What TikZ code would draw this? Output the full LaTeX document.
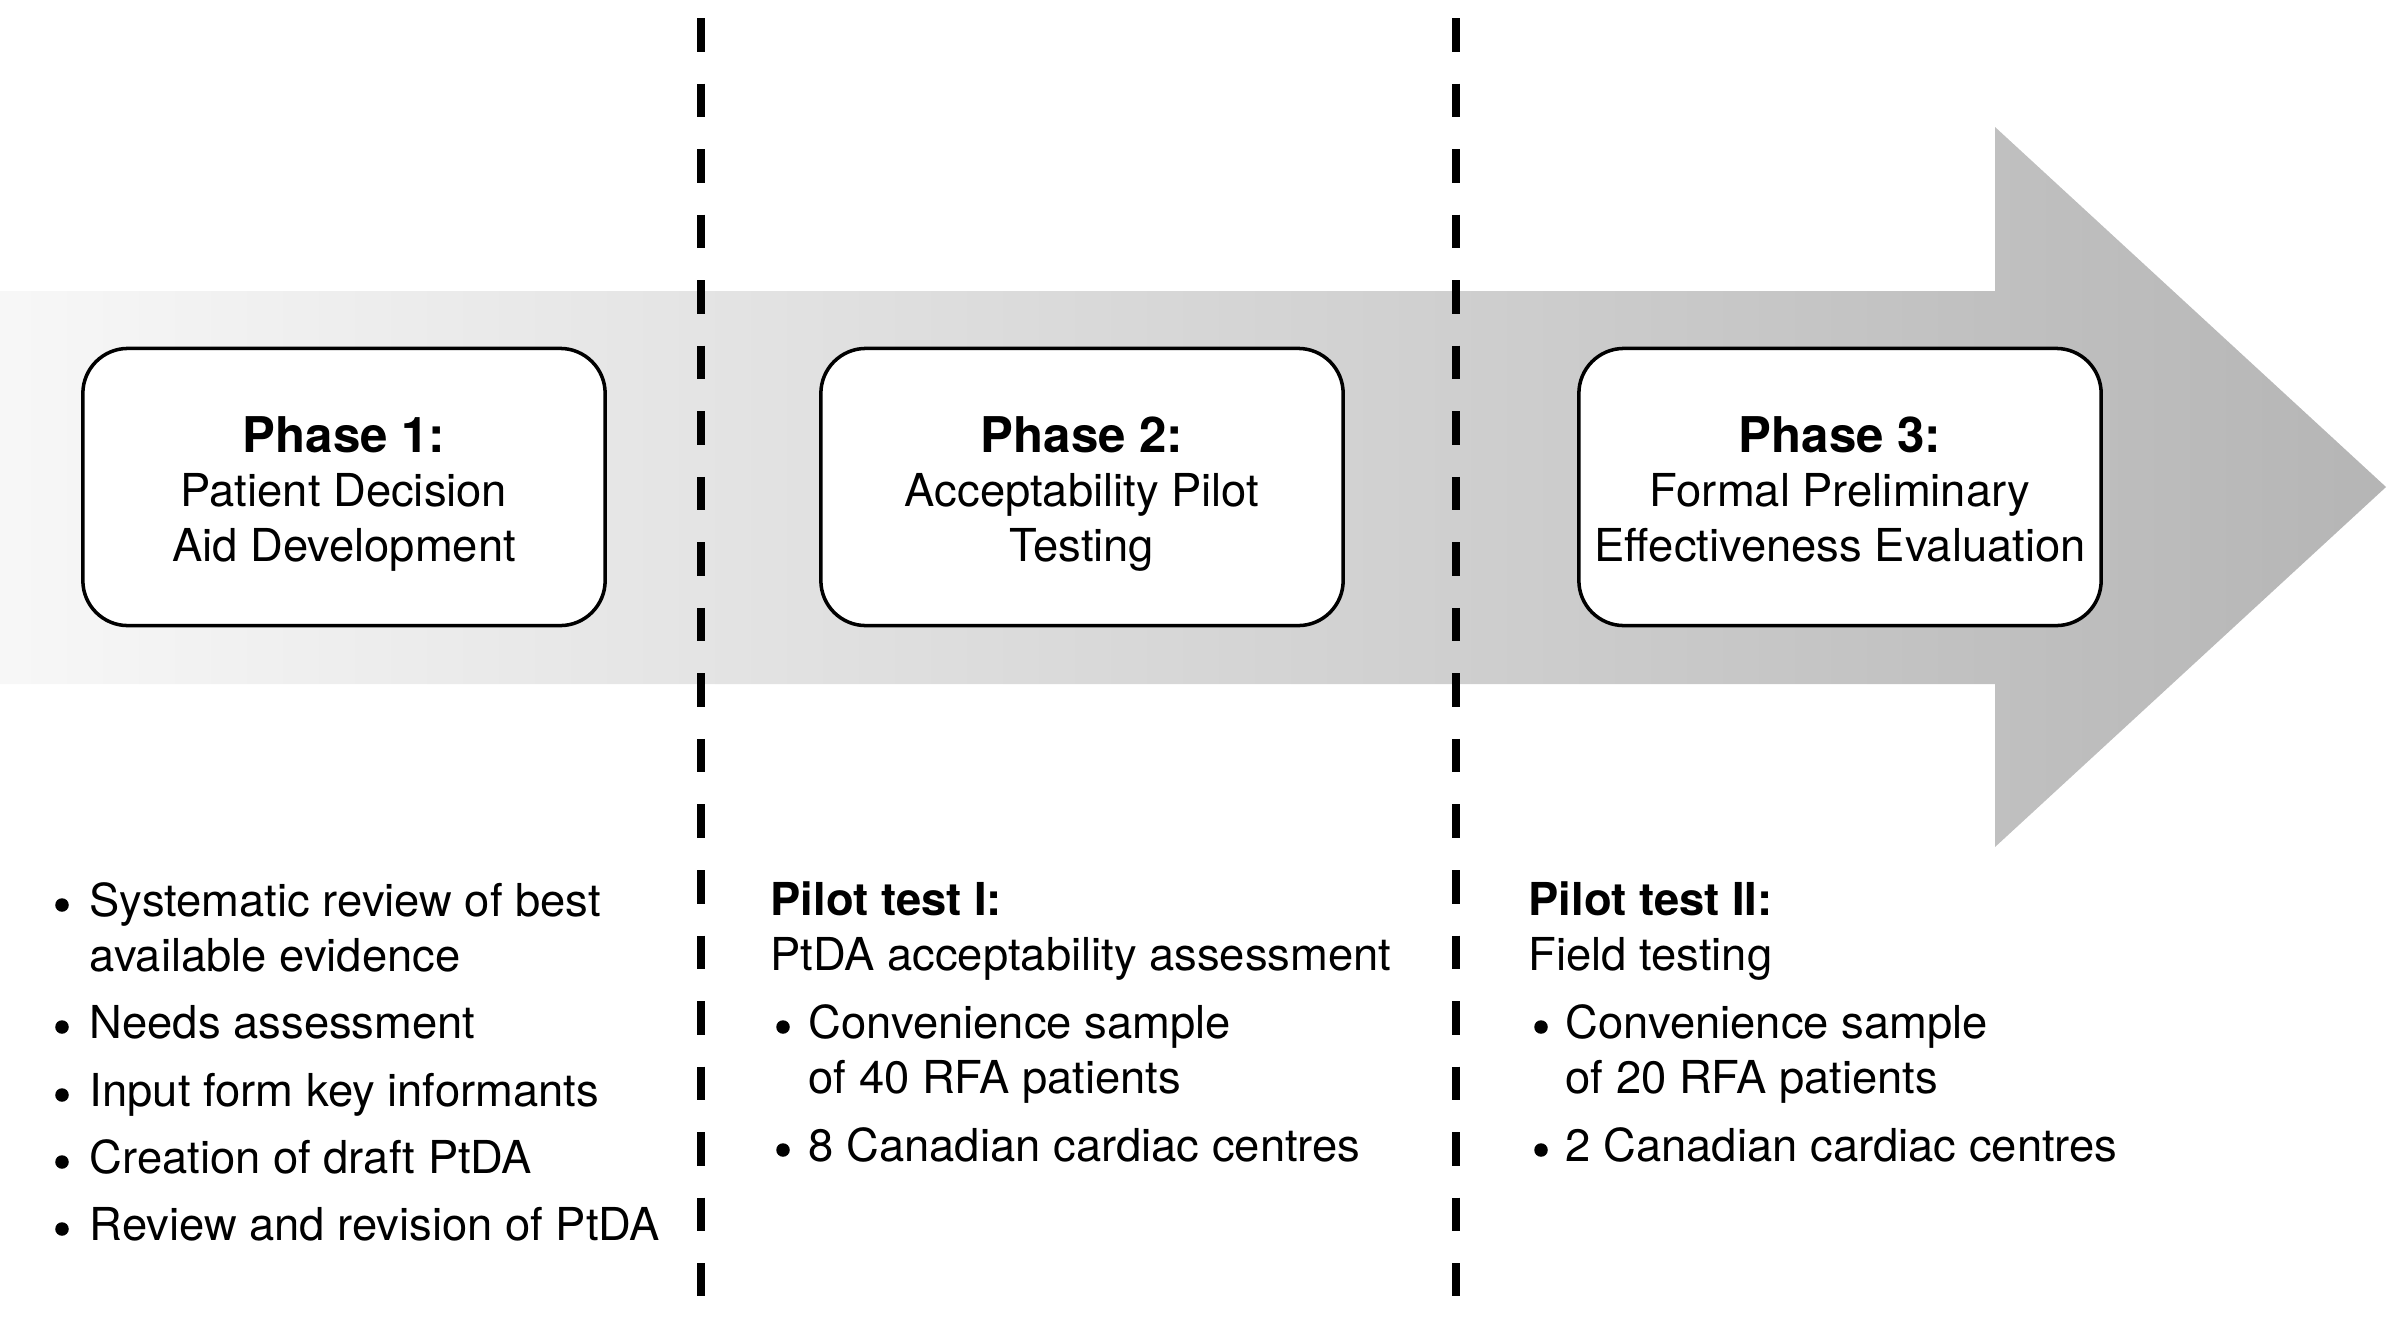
\documentclass[tikz,border=0pt]{standalone}
\usepackage{fontspec}
\setmainfont{TeX Gyre Heros}
\begin{document}
\begin{tikzpicture}[x=0.01cm,y=-0.01cm,
  txt/.style={font=\fontsize{12.9}{15.6}\selectfont, inner sep=0pt},
  phasebox/.style={draw=black, line width=1pt, fill=white, rounded corners=0.45cm,
    minimum width=5.22cm, minimum height=2.77cm, inner sep=0pt},
  boxline/.style={txt, anchor=base},
  boxhead/.style={inner sep=0pt, anchor=base, font=\fontsize{14}{16}\selectfont\bfseries},
  sep/.style={line width=0.08cm, dash pattern=on 0.335cm off 0.32cm},
  item/.style={txt, anchor=base west},
  bul/.style={circle, fill=black, inner sep=0pt, minimum size=0.135cm}]
\useasboundingbox (0,0) rectangle (2401,1327);
% big arrow
\shade[left color=black!3, right color=black!29]
  (0,291) -- (1995,291) -- (1995,127) -- (2386,487) -- (1995,847) -- (1995,684) -- (0,684) -- cycle;
% separators
\coordinate (d1top) at (701,18);
\coordinate (d1bot) at (701,1296);
\coordinate (d2top) at (1456,18);
\coordinate (d2bot) at (1456,1296);
\draw[sep] (d1top) -- (d1bot);
\draw[sep] (d2top) -- (d2bot);
% phase boxes
\node[phasebox] (p1) at (344,487) {};
\node[phasebox] (p2) at (1082,487) {};
\node[phasebox] (p3) at (1840,487) {};
\node[boxhead] (p1a) at (344,452) {Phase 1:};
\node[boxline] (p1b) at (344,506) {Patient Decision};
\node[boxline] (p1c) at (344,561) {Aid Development};
\node[boxhead] (p2a) at (1082,452) {Phase 2:};
\node[boxline] (p2b) at (1082,506) {Acceptability Pilot};
\node[boxline] (p2c) at (1082,561) {Testing};
\node[boxhead] (p3a) at (1840,452) {Phase 3:};
\node[boxline] (p3b) at (1840,506) {Formal Preliminary};
\node[boxline] (p3c) at (1840,561) {Effectiveness Evaluation};
% column 1
\node[bul] (b11) at (62,905) {};
\node[item] (t11) at (89,916) {Systematic review of best};
\node[item] (t11b) at (89,971) {available evidence};
\node[bul] (b12) at (62,1027) {};
\node[item] (t12) at (89,1038) {Needs assessment};
\node[bul] (b13) at (62,1095) {};
\node[item] (t13) at (89,1106) {Input form key informants};
\node[bul] (b14) at (62,1162) {};
\node[item] (t14) at (89,1173) {Creation of draft PtDA};
\node[bul] (b15) at (62,1229) {};
\node[item] (t15) at (89,1240) {Review and revision of PtDA};
% column 2
\node[item] (h2) at (770,915) {\textbf{Pilot test I:}};
\node[item] (s2) at (770,970) {PtDA acceptability assessment};
\node[bul] (b21) at (783,1027) {};
\node[item] (t21) at (808,1038) {Convenience sample};
\node[item] (t21b) at (808,1093) {of 40 RFA patients};
\node[bul] (b22) at (783,1150) {};
\node[item] (t22) at (808,1161) {8 Canadian cardiac centres};
% column 3
\node[item] (h3) at (1528,915) {\textbf{Pilot test II:}};
\node[item] (s3) at (1528,970) {Field testing};
\node[bul] (b31) at (1541,1027) {};
\node[item] (t31) at (1565,1038) {Convenience sample};
\node[item] (t31b) at (1565,1093) {of 20 RFA patients};
\node[bul] (b32) at (1541,1150) {};
\node[item] (t32) at (1565,1161) {2 Canadian cardiac centres};
\end{tikzpicture}
\end{document}
